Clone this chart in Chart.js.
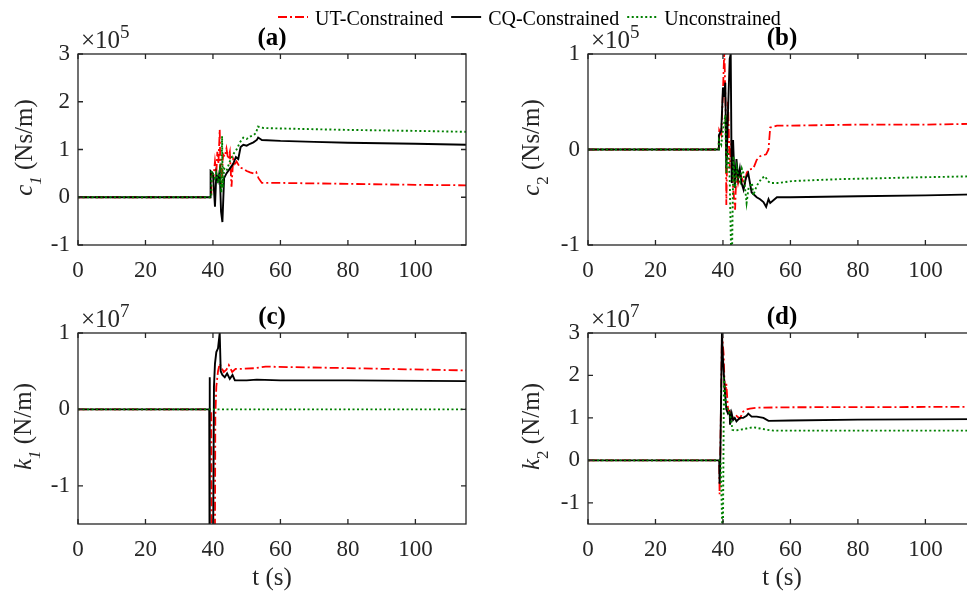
<!DOCTYPE html>
<html>
<head>
<meta charset="utf-8">
<script src="https://cdn.jsdelivr.net/npm/chart.js@4.4.0/dist/chart.umd.min.js"></script>
<style>
html, body { margin: 0; padding: 0; background: #fff; overflow: hidden; width: 967px; height: 594px; }
canvas { position: absolute; left: 0; top: 0; }
</style>
</head>
<body>
<canvas id="pa" width="990" height="594"></canvas>
<canvas id="pb" width="990" height="594"></canvas>
<canvas id="pc" width="990" height="594"></canvas>
<canvas id="pd" width="990" height="594"></canvas>
<script>
// series names
const seriesNames = ['UT-Constrained', 'CQ-Constrained', 'Unconstrained'];
const xTicks = [0, 20, 40, 60, 80, 100];

// (a) c1, x10^5 Ns/m
const utA_t = [0, 39.5, 39.6, 40.2, 40.6, 41.0, 41.3, 41.6, 41.9, 42.0, 42.2, 42.5, 43.0, 43.5, 44.0, 44.5, 45.0, 45.5, 46.0, 46.5, 47.0, 48.0, 49.0, 50.0, 51.0, 52.0, 52.8, 53.5, 54.5, 60, 80, 100, 115];
const utA = [0, 0, 0.5, 0.45, 0.75, 0.5, 0.95, 0.7, 1.2, 1.42, 0.6, 0.2, 0.9, 0.85, 1.02, 0.8, 0.95, 0.22, 0.8, 0.7, 0.75, 0.62, 0.6, 0.55, 0.52, 0.5, 0.53, 0.4, 0.3, 0.3, 0.28, 0.26, 0.25];
const cqA_t = [0, 39.2, 39.3, 40.0, 40.6, 41.0, 41.5, 42.0, 42.4, 42.8, 43.3, 44.0, 45.0, 46.0, 46.8, 47.5, 48.2, 49.0, 50.0, 51.0, 52.0, 53.0, 53.4, 54.5, 60, 70, 80, 90, 100, 115];
const cqA = [0, 0, 0.55, 0.5, -0.2, 0.5, 0.35, 0.55, -0.3, -0.52, 0.4, 0.5, 0.6, 0.7, 0.84, 0.8, 1.05, 1.1, 1.08, 1.12, 1.15, 1.2, 1.25, 1.2, 1.18, 1.16, 1.14, 1.13, 1.12, 1.10];
const unA_t = [0, 39.5, 39.6, 40.5, 41.0, 41.5, 42.0, 42.5, 42.7, 42.9, 43.3, 44.0, 45.0, 46.0, 47.0, 48.0, 49.0, 50.0, 51.0, 52.0, 52.8, 53.3, 55, 60, 80, 100, 115];
const unA = [0, 0, 0.55, 0.4, 0.5, 0.3, 0.55, 0.1, 1.28, 0.2, 0.6, 0.55, 0.75, 0.9, 1.0, 1.15, 1.25, 1.22, 1.27, 1.3, 1.35, 1.48, 1.45, 1.44, 1.41, 1.39, 1.37];

// (b) c2, x10^5 Ns/m
const utB_t = [0, 38.7, 38.9, 39.5, 40.0, 40.4, 40.8, 41.0, 41.5, 42.0, 42.5, 43.0, 43.6, 44.0, 44.5, 45.1, 45.6, 46.4, 47.0, 47.6, 49.0, 50.0, 51.0, 52.0, 52.8, 53.5, 54.0, 56, 60, 80, 100, 115];
const utB = [0, 0, 0.2, 0.15, 0.6, 1.05, 0.4, -0.58, 0.5, -0.2, 0.1, -0.4, -0.63, -0.2, -0.35, -0.25, -0.3, -0.37, -0.25, -0.21, -0.2, -0.11, -0.07, -0.06, -0.05, 0.0, 0.23, 0.25, 0.25, 0.26, 0.26, 0.27];
const cqB_t = [0, 38.7, 38.8, 39.5, 40.0, 40.3, 40.7, 41.0, 41.5, 42.0, 42.3, 42.6, 43.0, 43.5, 44.0, 44.5, 45.0, 45.5, 46.1, 46.8, 47.5, 48.5, 50.0, 51.0, 52.0, 52.8, 53.5, 54.0, 56.0, 60, 80, 100, 115];
const cqB = [0, 0, 0.15, 0.2, 0.65, 0.55, 0.7, -0.2, 0.4, 0.95, 1.0, -0.35, 0.1, -0.4, -0.1, -0.3, -0.2, -0.35, -0.42, -0.3, -0.25, -0.45, -0.5, -0.52, -0.55, -0.6, -0.52, -0.56, -0.5, -0.5, -0.49, -0.48, -0.47];
const unB_t = [0, 38.7, 38.8, 39.5, 40.0, 40.7, 41.0, 41.5, 42.0, 42.4, 42.7, 43.1, 43.6, 44.1, 44.6, 45.1, 45.6, 46.1, 47.0, 47.6, 48.6, 49.0, 50.0, 51.5, 52.5, 53.3, 54.0, 56.6, 60.6, 75, 100, 115];
const unB = [0, 0, 0.1, 0.05, 0.2, 0.36, -0.25, 0.0, -0.3, -1.05, -1.05, -0.07, -0.4, -0.19, -0.3, -0.34, -0.2, -0.25, -0.56, -0.4, -0.35, -0.48, -0.38, -0.3, -0.28, -0.33, -0.35, -0.35, -0.33, -0.31, -0.29, -0.28];

// (c) k1, x10^7 N/m
const utC_t = [0, 39.5, 39.7, 40.5, 40.7, 41.0, 41.5, 42.0, 42.5, 43.2, 44.0, 44.7, 45.7, 46.7, 48.0, 52.6, 55.6, 80, 115];
const utC = [0, 0, -3, -3, -0.1, 0.3, 0.5, 0.6, 0.55, 0.49, 0.52, 0.58, 0.49, 0.53, 0.53, 0.54, 0.56, 0.54, 0.51];
const cqC_t = [0, 38.9, 39.0, 39.1, 39.9, 40.3, 40.6, 41.0, 41.5, 42.0, 42.3, 42.8, 43.5, 44.2, 45.0, 45.8, 46.5, 47.5, 50, 53, 60, 80, 115];
const cqC = [0, 0, 0.42, -3, -3, 0.3, 0.6, 0.75, 0.8, 1.0, 0.5, 0.45, 0.42, 0.47, 0.4, 0.45, 0.38, 0.38, 0.38, 0.39, 0.38, 0.38, 0.37];
const unC_t = [0, 40, 115];
const unC = [0, 0, 0];

// (d) k2, x10^7 N/m
const utD_t = [0, 38.9, 39.0, 39.2, 39.7, 40.2, 40.6, 41.0, 41.5, 42.0, 43.0, 44.0, 45.0, 46.0, 47.0, 48.0, 50, 60, 115];
const utD = [0, 0, -0.8, 0, 3.0, 2.5, 1.5, 1.8, 1.2, 1.15, 1.0, 1.05, 0.98, 1.15, 1.2, 1.22, 1.24, 1.25, 1.26];
const cqD_t = [0, 38.9, 39.0, 39.2, 39.7, 40.0, 40.5, 41.0, 41.5, 42.0, 42.1, 42.6, 43.0, 43.5, 44.0, 45.0, 46.0, 47.0, 47.5, 48.5, 50, 52, 53.5, 60, 80, 115];
const cqD = [0, 0, -0.55, 0, 3.0, 2.4, 1.7, 1.2, 1.1, 1.15, 0.84, 1.1, 0.95, 1.0, 0.92, 1.0, 1.0, 1.05, 1.1, 1.03, 1.03, 1.0, 0.93, 0.94, 0.96, 0.97];
const unD_t = [0, 39.3, 39.8, 40.0, 40.3, 40.8, 41.5, 42.0, 42.5, 42.8, 43.5, 45, 47, 49, 51, 53, 55, 115];
const unD = [0, 0, -1.6, -1.6, 1.95, 1.3, 1.2, 1.1, 0.9, 0.72, 0.7, 0.72, 0.75, 0.78, 0.75, 0.72, 0.7, 0.7];

const FONT = '"Liberation Serif", "Times New Roman", serif';
const AX = '#262626';
const styles = [
  { color: '#ff0000', dash: [9, 3, 2, 3], width: 1.8, order: 3 },
  { color: '#000000', dash: [], width: 1.9, order: 2 },
  { color: '#008000', dash: [2, 2.5], width: 1.9, order: 1 }
];

Chart.defaults.font.family = FONT;
Chart.defaults.font.size = 23;
Chart.defaults.color = AX;

const pts = (ts, vs) => ts.map((t, i) => ({ x: t, y: vs[i] }));

// draws box, inward ticks, titles, labels, legend
const panelPlugin = {
  id: 'panel',
  afterDraw(chart, args, o) {
    const ctx = chart.ctx, a = chart.chartArea;
    const xs = chart.scales.x, ys = chart.scales.y;
    ctx.save();
    ctx.strokeStyle = AX;
    ctx.lineWidth = 1.3;
    ctx.setLineDash([]);
    ctx.strokeRect(a.left, a.top, a.right - a.left, a.bottom - a.top);
    ctx.beginPath();
    xs.ticks.forEach(t => {
      const x = xs.getPixelForValue(t.value);
      ctx.moveTo(x, a.bottom); ctx.lineTo(x, a.bottom - 5);
      ctx.moveTo(x, a.top); ctx.lineTo(x, a.top + 5);
    });
    ys.ticks.forEach(t => {
      const y = ys.getPixelForValue(t.value);
      ctx.moveTo(a.left, y); ctx.lineTo(a.left + 5, y);
      ctx.moveTo(a.right, y); ctx.lineTo(a.right - 5, y);
    });
    ctx.stroke();

    const mid = (a.left + a.right) / 2;
    ctx.fillStyle = '#000';
    ctx.font = 'bold 25px ' + FONT;
    ctx.textAlign = 'center';
    ctx.textBaseline = 'alphabetic';
    ctx.fillText(o.title, mid, a.top - 9);

    ctx.fillStyle = AX;
    ctx.textAlign = 'left';
    ctx.font = '25px ' + FONT;
    ctx.fillText('\u00d710', a.left + 3, a.top - 6);
    const w10 = ctx.measureText('\u00d710').width;
    ctx.font = '19px ' + FONT;
    ctx.fillText(o.exp, a.left + 3 + w10, a.top - 16);

    // y label with italic symbol and subscript
    ctx.save();
    ctx.translate(a.left - o.yOff, (a.top + a.bottom) / 2 - 2);
    ctx.rotate(-Math.PI / 2);
    ctx.font = 'italic 25px ' + FONT;
    const w1 = ctx.measureText(o.sym).width;
    const subFont = (o.subItalic ? 'italic ' : '') + '17px ' + FONT;
    ctx.font = subFont;
    const w2 = ctx.measureText(o.sub).width;
    ctx.font = '25px ' + FONT;
    const w3 = ctx.measureText(o.unit).width;
    let x0 = -(w1 + w2 + w3) / 2;
    ctx.font = 'italic 25px ' + FONT;
    ctx.fillText(o.sym, x0, 0);
    ctx.font = subFont;
    ctx.fillText(o.sub, x0 + w1, 9);
    ctx.font = '25px ' + FONT;
    ctx.fillText(o.unit, x0 + w1 + w2, 0);
    ctx.restore();

    if (o.xlabel) {
      ctx.textAlign = 'center';
      ctx.font = '25px ' + FONT;
      ctx.fillText('t (s)', mid, 585);
    }

    if (o.legend) {
      let x = 278;
      ctx.font = '20px ' + FONT;
      chart.data.datasets.forEach(ds => {
        ctx.strokeStyle = ds.borderColor;
        ctx.lineWidth = ds.borderWidth;
        ctx.setLineDash(ds.borderDash);
        ctx.beginPath();
        ctx.moveTo(x, 17); ctx.lineTo(x + 30, 17);
        ctx.stroke();
        ctx.fillStyle = '#000';
        ctx.textAlign = 'left';
        ctx.fillText(ds.label, x + 37, 25);
        x += 37 + ctx.measureText(ds.label).width + 8;
      });
    }
    ctx.restore();
  }
};

function makePanel(id, box, yMin, yMax, series, opts) {
  const W = 990, H = 594, yW = 60, xH = 40;
  const datasets = series.map((s, i) => ({
    label: seriesNames[i],
    data: pts(s[0], s[1]),
    borderColor: styles[i].color,
    borderDash: styles[i].dash,
    borderWidth: styles[i].width,
    order: styles[i].order,
    pointRadius: 0,
    tension: 0,
    fill: false
  }));
  new Chart(document.getElementById(id), {
    type: 'line',
    data: { datasets },
    options: {
      responsive: false,
      animation: false,
      events: [],
      layout: {
        padding: { left: box.l - yW, right: W - box.r, top: box.t, bottom: H - box.b - xH }
      },
      scales: {
        x: {
          type: 'linear', min: 0, max: 115,
          afterFit: s => { s.height = xH; },
          grid: { display: false, drawTicks: false },
          border: { display: false },
          ticks: { stepSize: 20, includeBounds: false, padding: 12, maxRotation: 0 }
        },
        y: {
          type: 'linear', min: yMin, max: yMax,
          afterFit: s => { s.width = yW; },
          grid: { display: false, drawTicks: false },
          border: { display: false },
          ticks: { stepSize: 1, includeBounds: false, padding: 8 }
        }
      },
      plugins: {
        legend: { display: false },
        tooltip: { enabled: false },
        panel: opts
      }
    },
    plugins: [panelPlugin]
  });
}

makePanel('pa', { l: 78, r: 466, t: 54, b: 245 }, -1, 3,
  [[utA_t, utA], [cqA_t, cqA], [unA_t, unA]],
  { title: '(a)', exp: '5', sym: 'c', sub: '1', subItalic: true, unit: ' (Ns/m)', yOff: 46, legend: true });
makePanel('pb', { l: 588, r: 976, t: 54, b: 245 }, -1, 1,
  [[utB_t, utB], [cqB_t, cqB], [unB_t, unB]],
  { title: '(b)', exp: '5', sym: 'c', sub: '2', subItalic: false, unit: ' (Ns/m)', yOff: 49 });
makePanel('pc', { l: 78, r: 466, t: 333, b: 524 }, -1.5, 1,
  [[utC_t, utC], [cqC_t, cqC], [unC_t, unC]],
  { title: '(c)', exp: '7', sym: 'k', sub: '1', subItalic: true, unit: ' (N/m)', yOff: 47, xlabel: true });
makePanel('pd', { l: 588, r: 976, t: 333, b: 524 }, -1.5, 3,
  [[utD_t, utD], [cqD_t, cqD], [unD_t, unD]],
  { title: '(d)', exp: '7', sym: 'k', sub: '2', subItalic: false, unit: ' (N/m)', yOff: 49, xlabel: true });
</script>
</body>
</html>
